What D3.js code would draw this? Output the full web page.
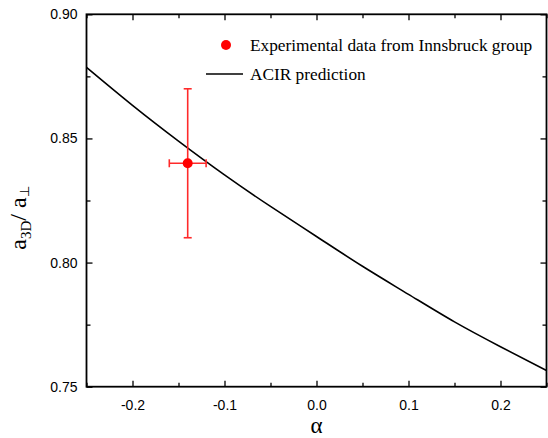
<!DOCTYPE html>
<html><head><meta charset="utf-8">
<script src="https://cdn.jsdelivr.net/npm/d3@7"></script>
<style>body{margin:0;background:#fff}svg{display:block}</style>
</head><body>
<svg id="c" width="548" height="438"></svg>
<script>
const alphaValues = [-0.25,-0.2,-0.15,-0.1,-0.05,0,0.05,0.1,0.15,0.2,0.25];
const ratioValues = [0.8786,0.8633,0.8489,0.8353,0.8226,0.8105,0.7985,0.7872,0.7761,0.7661,0.7565];
const expAlpha = [-0.14];
const expRatio = [0.84];
const expAlphaErr = [0.02];
const expRatioErr = [0.03];
const xTicks = [-0.2,-0.1,0.0,0.1,0.2];
const yTicks = [0.75,0.80,0.85,0.90];
const xMinor = [-0.25,-0.15,-0.05,0.05,0.15,0.25];
const yMinor = [0.775,0.825,0.875];

const svg = d3.select("#c");
const L=86.5, R=546.5, T=14.3, B=386.7;
const x = d3.scaleLinear().domain([-0.25,0.25]).range([L,R]);
const y = d3.scaleLinear().domain([0.75,0.90]).range([B,T]);

const g = svg.append("g");
const line = d3.line().x(d=>x(d[0])).y(d=>y(d[1])).curve(d3.curveNatural);
svg.append("clipPath").attr("id","pc").append("rect").attr("x",L).attr("y",T).attr("width",R-L).attr("height",B-T);
g.append("path").datum(alphaValues.map((a,i)=>[a,ratioValues[i]]))
 .attr("d",line).attr("fill","none").attr("stroke","#000").attr("stroke-width",1.6).attr("clip-path","url(#pc)");

const red="#ff0000";
expAlpha.forEach((a,i)=>{
  const v=expRatio[i], ex=expAlphaErr[i], ey=expRatioErr[i];
  const eg=g.append("g").attr("stroke","#ff2a2a").attr("stroke-width",1.6);
  eg.append("line").attr("x1",x(a)).attr("x2",x(a)).attr("y1",y(v-ey)).attr("y2",y(v+ey));
  eg.append("line").attr("x1",x(a)-4).attr("x2",x(a)+4).attr("y1",y(v-ey)).attr("y2",y(v-ey));
  eg.append("line").attr("x1",x(a)-4).attr("x2",x(a)+4).attr("y1",y(v+ey)).attr("y2",y(v+ey));
  eg.append("line").attr("x1",x(a-ex)).attr("x2",x(a+ex)).attr("y1",y(v)).attr("y2",y(v));
  eg.append("line").attr("x1",x(a-ex)).attr("x2",x(a-ex)).attr("y1",y(v)-4).attr("y2",y(v)+4);
  eg.append("line").attr("x1",x(a+ex)).attr("x2",x(a+ex)).attr("y1",y(v)-4).attr("y2",y(v)+4);
  g.append("circle").attr("cx",x(a)).attr("cy",y(v)).attr("r",5).attr("fill",red);
});

const font="Liberation Sans, Arial, sans-serif";
function styleAxis(sel){sel.select(".domain").remove();sel.selectAll("line").attr("stroke","#000").attr("stroke-width",1.3);}
const xb = svg.append("g").attr("transform",`translate(0,${B})`).call(d3.axisBottom(x).tickValues(xTicks).tickSize(-6).tickPadding(13).tickFormat(d3.format(".1f")));
xb.call(styleAxis); xb.selectAll("text").attr("font-family",font).attr("font-size",14).attr("fill","#000");
xb.selectAll("text").text(d=>d3.format(".1f")(d).replace("−","-"));
svg.append("g").attr("transform",`translate(0,${B})`).call(d3.axisBottom(x).tickValues(xMinor).tickSize(-4).tickFormat("")).call(styleAxis);
svg.append("g").attr("transform",`translate(0,${T})`).call(d3.axisTop(x).tickValues(xTicks).tickSize(-6).tickFormat("")).call(styleAxis);
svg.append("g").attr("transform",`translate(0,${T})`).call(d3.axisTop(x).tickValues(xMinor).tickSize(-4).tickFormat("")).call(styleAxis);
const yl = svg.append("g").attr("transform",`translate(${L},0)`).call(d3.axisLeft(y).tickValues(yTicks).tickSize(-6).tickPadding(9).tickFormat(d3.format(".2f")));
yl.call(styleAxis); yl.selectAll("text").attr("font-family",font).attr("font-size",14).attr("fill","#000");
svg.append("g").attr("transform",`translate(${L},0)`).call(d3.axisLeft(y).tickValues(yMinor).tickSize(-4).tickFormat("")).call(styleAxis);
svg.append("g").attr("transform",`translate(${R},0)`).call(d3.axisRight(y).tickValues(yTicks).tickSize(-6).tickFormat("")).call(styleAxis);
svg.append("g").attr("transform",`translate(${R},0)`).call(d3.axisRight(y).tickValues(yMinor).tickSize(-4).tickFormat("")).call(styleAxis);
svg.append("rect").attr("x",L).attr("y",T).attr("width",R-L).attr("height",B-T).attr("fill","none").attr("stroke","#000").attr("stroke-width",1.8);

const serif="Liberation Serif, Times New Roman, serif";
svg.append("text").attr("x",(L+R)/2).attr("y",433).attr("text-anchor","middle").attr("font-family",serif).attr("font-size",23).text("α");
const ylab = svg.append("text").attr("transform",`translate(26,218) rotate(-90)`).attr("text-anchor","middle").attr("font-family",serif).attr("font-size",24);
ylab.append("tspan").text("a");
ylab.append("tspan").attr("font-size",15).attr("dy",5).text("3D");
ylab.append("tspan").attr("dy",-5).text("/ a");
ylab.append("tspan").attr("font-size",13).attr("dy",3).text("⊥");

svg.append("circle").attr("cx",226).attr("cy",45).attr("r",5).attr("fill",red);
svg.append("text").attr("x",250).attr("y",51).attr("font-family",serif).attr("font-size",17.3).text("Experimental data from Innsbruck group");
svg.append("line").attr("x1",206).attr("x2",243).attr("y1",74).attr("y2",74).attr("stroke","#000").attr("stroke-width",1.5);
svg.append("text").attr("x",250).attr("y",80).attr("font-family",serif).attr("font-size",17.3).text("ACIR prediction");
</script>
</body></html>
